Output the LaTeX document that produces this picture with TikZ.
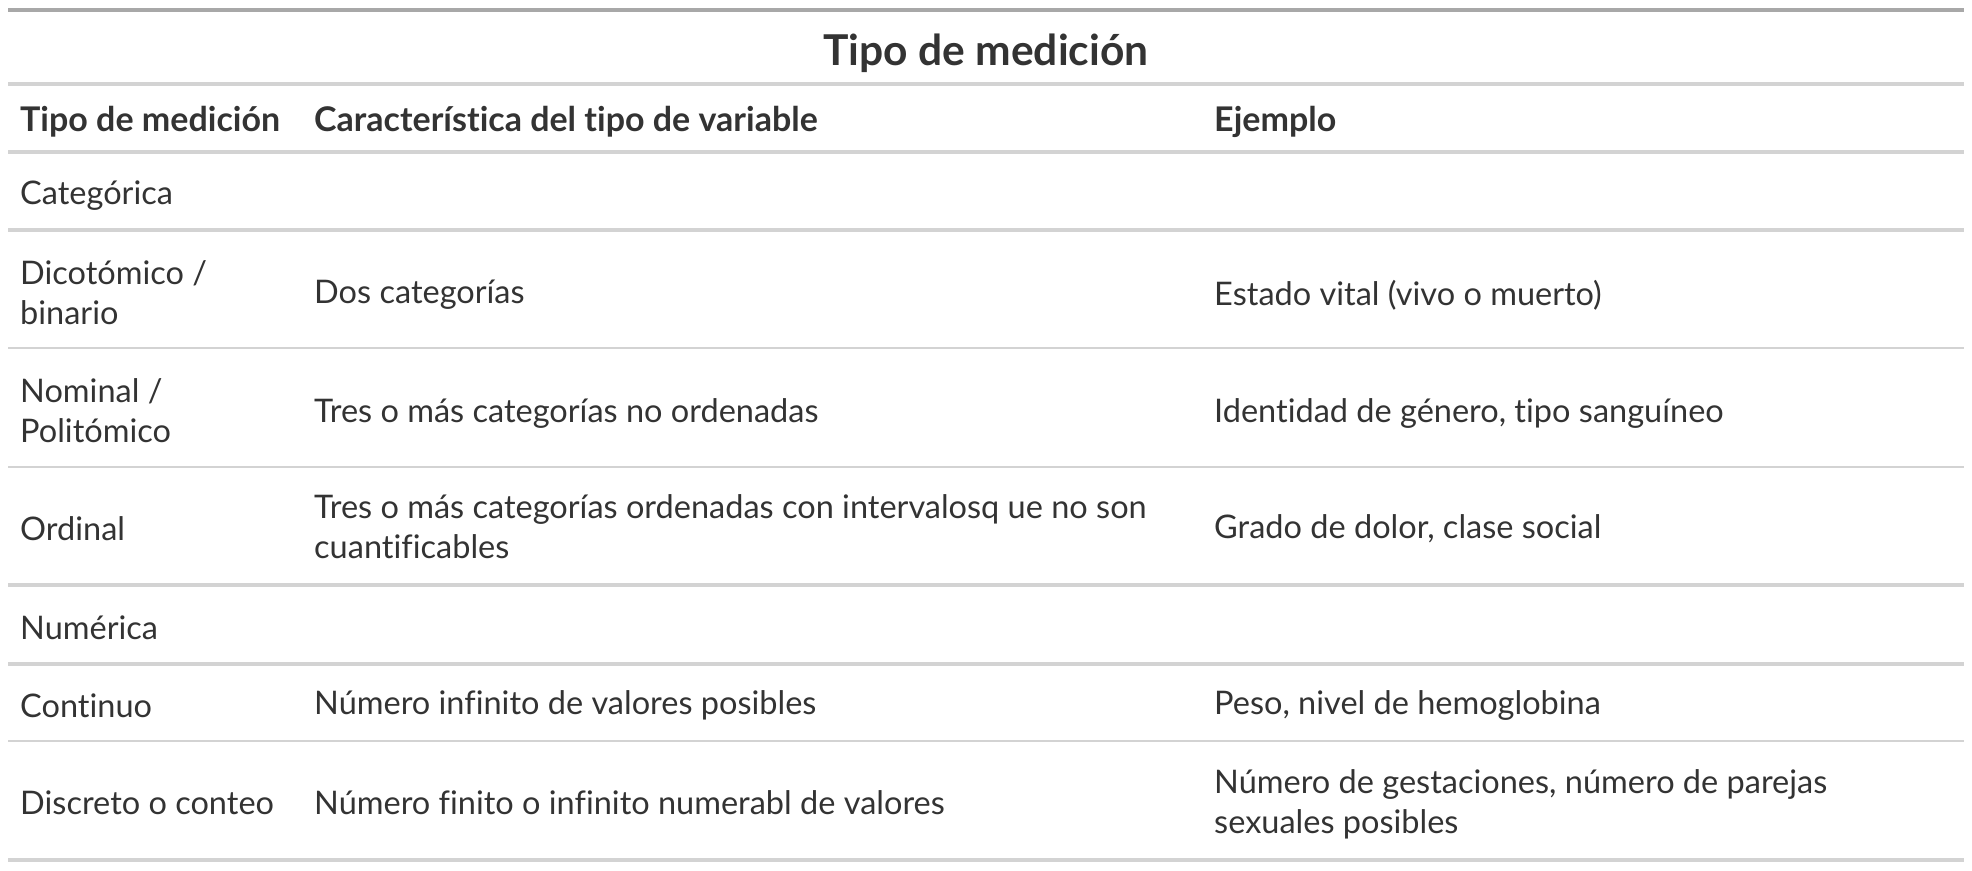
\documentclass[tikz,border=0pt]{standalone}
\usepackage{fontspec}
\setmainfont{Lato}[Ligatures=NoCommon]
\usetikzlibrary{positioning}
\definecolor{inkgray}{HTML}{333333}
\definecolor{rulegray}{HTML}{D3D3D3}
\definecolor{topgray}{HTML}{A8A8A8}

\begin{document}
\begin{tikzpicture}[x=1pt, y=-1pt,
                    every node/.style = {inner sep=0pt, anchor=west, align=left,
                      text=inkgray, font=\fontsize{32.5}{40.5}\selectfont},
                    headcell/.style = {font=\fontsize{34}{40.5}\selectfont\bfseries},
                    twoline/.style = {yshift=2.5pt},
                    thickrule/.style = {draw=rulegray, line width=4pt},
                    thinrule/.style = {draw=rulegray, line width=2pt}]
  \useasboundingbox (0,0) rectangle (1972,870);

  % title
  \draw[draw=topgray, line width=4pt] (8,10) -- (1964,10);
  \node[anchor=center, font=\fontsize{42.5}{48}\selectfont\bfseries] (title) at (986,53.5) {Tipo de medición};
  \draw[thickrule] (8,84) -- (1964,84);

  % column heads
  \node[headcell] (h1) at (20,121.5) {Tipo de medición};
  \node[headcell] (h2) at (314,121.5) {Característica del tipo de variable};
  \node[headcell] (h3) at (1214,121.5) {Ejemplo};
  \draw[thickrule] (8,152) -- (1964,152);

  % group: categorical
  \node (cat) at (20,196) {Categórica};
  \draw[thickrule] (8,230) -- (1964,230);

  \node[twoline] (dico) at (20,295) {Dicotómico /\\binario};
  \node (dicoC) at (314,295) {Dos categorías};
  \node (dicoE) at (1214,295) {Estado vital (vivo o muerto)};
  \draw[thinrule] (8,348) -- (1964,348);

  \node[twoline] (nomi) at (20,413) {Nominal /\\Politómico};
  \node (nomiC) at (314,413) {Tres o más categorías no ordenadas};
  \node (nomiE) at (1214,413) {Identidad de género, tipo sanguíneo};
  \draw[thinrule] (8,466.5) -- (1964,466.5);

  \node (ordi) at (20,529) {Ordinal};
  \node[twoline] (ordiC) at (314,529) {Tres o más categorías ordenadas con intervalosq ue no son\\cuantificables};
  \node (ordiE) at (1214,529) {Grado de dolor, clase social};
  \draw[thickrule] (8,585) -- (1964,585);

  % group: numeric
  \node (num) at (20,627.5) {Numérica};
  \draw[thickrule] (8,664) -- (1964,664);

  \node (cont) at (20,705.5) {Continuo};
  \node (contC) at (314,705.5) {Número infinito de valores posibles};
  \node (contE) at (1214,705.5) {Peso, nivel de hemoglobina};
  \draw[thinrule] (8,741) -- (1964,741);

  \node (disc) at (20,803) {Discreto o conteo};
  \node (discC) at (314,803) {Número finito o infinito numerabl de valores};
  \node (discE) at (1214,804.5) {Número de gestaciones, número de parejas\\sexuales posibles};
  \draw[thickrule] (8,860) -- (1964,860);
\end{tikzpicture}
\end{document}
